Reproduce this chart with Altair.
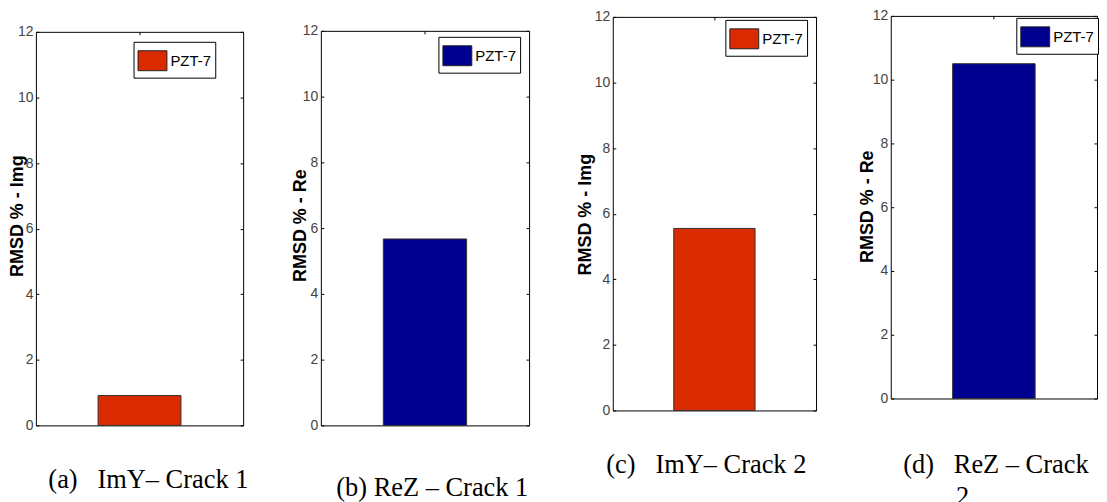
import altair as alt
import pandas as pd

# ---- data ----
panel_ids = ["a", "b", "c", "d"]
rmsd_values = [0.91, 5.67, 5.55, 10.5]
series_name = "PZT-7"
category = ["PZT-7"]
y_titles = ["RMSD % - Img", "RMSD % - Re", "RMSD % - Img", "RMSD % - Re"]
captions = [
    "(a)\u00a0\u00a0\u00a0ImY\u2013 Crack 1",
    "(b) ReZ \u2013 Crack 1",
    "(c)\u00a0\u00a0\u00a0ImY\u2013 Crack 2",
    ["(d)\u00a0\u00a0\u00a0ReZ \u2013 Crack", "\u200b" + "\u00a0" * 8 + "2"],
]
bar_colors = ["#DA2A00", "#00008F", "#DA2A00", "#00008F"]
y_tick_values = [0, 2, 4, 6, 8, 10, 12]

# ---- layout / style (pixels, not data) ----
H = 494                                   # common cell height
cell_w = [276, 286, 280, 252]             # cell widths (cells abut, flush)
x_range = [(28, 236), (38, 247), (45, 249), (44, 251)]   # plot box inside cell
y_range = [(418, 23), (418, 22), (403, 8), (391, 7)]     # (bottom, top) inside cell
ytitle_x = [-13, -15, -22, -18]
ytitle_y = [207.5, 217, 206, 198]
cap_x = [40, 53, 38, 56]
cap_y = [62, 70, 62, 74]
legend_xy = [(126, 33), (156, 28), (158, 11), (170, 9)]

NARROW = "Liberation Sans Narrow, Arial Narrow, Liberation Sans, Arial, sans-serif"
SANS = "Liberation Sans, Arial, sans-serif"
SERIF = "Liberation Serif, Times New Roman, serif"
T = 3  # inward tick length


def panel(i):
    df = pd.DataFrame({"series": [series_name], "cat": category, "value": [rmsd_values[i]]})
    base = alt.Chart(df)
    x0, x1 = x_range[i]
    yb, yt = y_range[i]
    W = cell_w[i]
    xs = alt.Scale(range=[x0, x1], paddingInner=0, paddingOuter=0.75)
    ys = alt.Scale(domain=[0, 12], nice=False, zero=True, range=[yb, yt])

    bars = base.mark_bar(stroke="#333333", strokeWidth=1).encode(
        x=alt.X("cat:N", scale=xs, axis=alt.Axis(
            orient="bottom", offset=yb - H, labels=False, ticks=False,
            domain=True, domainColor="black", domainWidth=1,
            title=captions[i], titleFont=SERIF, titleFontSize=26.5,
            titleFontWeight="normal", titleColor="black",
            titleAlign="left", titleBaseline="alphabetic", titleAnchor="start",
            titleX=cap_x[i], titleY=cap_y[i], titleLineHeight=32)),
        y=alt.Y("value:Q", scale=ys, axis=alt.Axis(
            orient="left", offset=-x0, values=y_tick_values, ticks=False,
            domain=True, domainColor="black", domainWidth=1,
            grid=False, labelFont=NARROW, labelFontSize=14, labelColor="#444444",
            labelPadding=3, title=y_titles[i], titleFont=SANS, titleFontSize=18,
            titleFontWeight="bold", titleColor="black", titleAngle=270,
            titleAlign="center", titleBaseline="alphabetic",
            titleX=ytitle_x[i], titleY=ytitle_y[i])),
        color=alt.Color("series:N", scale=alt.Scale(domain=[series_name], range=[bar_colors[i]]),
                        legend=alt.Legend(
                            orient="none", legendX=legend_xy[i][0], legendY=legend_xy[i][1],
                            title=None, strokeColor="black", fillColor="white", padding=4,
                            symbolType="M-1,-0.69H1V0.69H-1Z", symbolSize=841,
                            symbolStrokeColor="#222222", symbolStrokeWidth=1,
                            symbolOpacity=1,
                            labelFont=NARROW, labelFontSize=15, labelColor="black",
                            labelOffset=3)),
    )
    layer2 = base.mark_bar(opacity=0).encode(
        x=alt.X("cat:N", scale=xs, axis=alt.Axis(
            orient="top", offset=-yt, labels=False, ticks=False, domain=True,
            domainColor="black", domainWidth=1, title=None, grid=False)),
        y=alt.Y("value:Q", scale=ys, axis=alt.Axis(
            orient="left", offset=-(x0 + T), labels=False, domain=False, tickSize=T,
            tickColor="black", values=y_tick_values, title=None, grid=False)),
    )
    layer3 = base.mark_bar(opacity=0).encode(
        x=alt.X("cat:N", scale=xs, axis=alt.Axis(
            orient="top", offset=-(yt + T), labels=False, domain=False, tickSize=T,
            tickColor="black", bandPosition=0.5, title=None, grid=False)),
        y=alt.Y("value:Q", scale=ys, axis=alt.Axis(
            orient="right", offset=-(W - x1), labels=False, ticks=False, domain=True,
            domainColor="black", domainWidth=1, values=y_tick_values, title=None, grid=False)),
    )
    layer4 = base.mark_bar(opacity=0).encode(
        x=alt.X("cat:N", scale=xs, axis=None),
        y=alt.Y("value:Q", scale=ys, axis=alt.Axis(
            orient="right", offset=-(W - x1 + T), labels=False, domain=False, tickSize=T,
            tickColor="black", values=y_tick_values, title=None, grid=False)),
    )
    return alt.layer(bars, layer2, layer3, layer4).resolve_axis(
        x="independent", y="independent").properties(width=W, height=H)


chart = alt.hconcat(*[panel(i) for i in range(4)], spacing=0, bounds="flush").resolve_scale(
    color="independent"
).properties(
    padding={"left": 0, "top": 0, "right": 0, "bottom": 0},
    background="white",
).configure_view(strokeWidth=0)

chart.save("out.html", embed_options={"renderer": "svg", "actions": False})
